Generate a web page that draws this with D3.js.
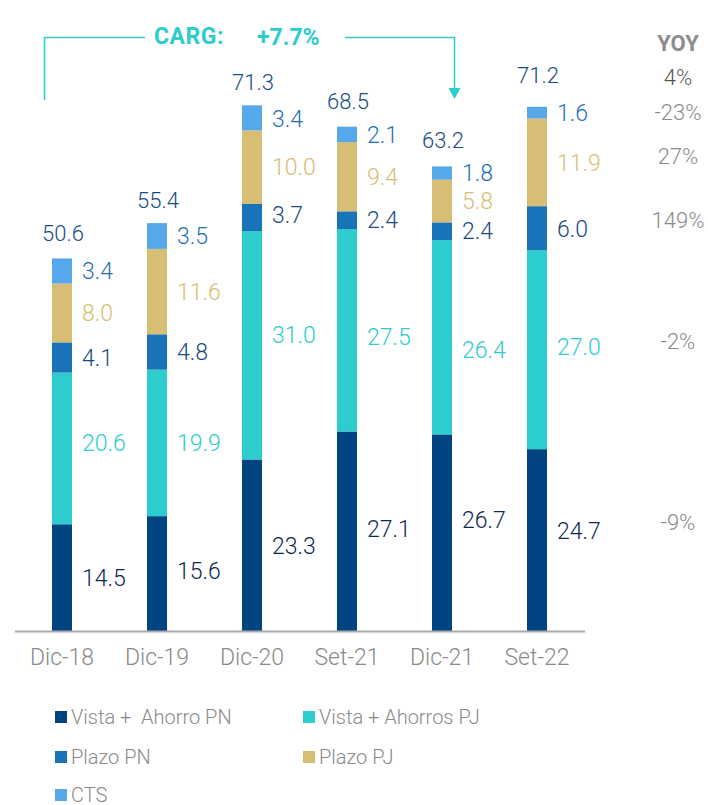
<!DOCTYPE html>
<html>
<head>
<meta charset="utf-8">
<script src="https://cdn.jsdelivr.net/npm/d3@7"></script>
<style>
  html, body { margin: 0; padding: 0; background: #ffffff; }
  svg { display: block; font-family: Roboto, "Open Sans", sans-serif; }
  text { white-space: pre; }
</style>
</head>
<body>
<svg id="chart" width="708" height="805"></svg>
<script>
// ---- data ----
const categories = ["Dic-18", "Dic-19", "Dic-20", "Set-21", "Dic-21", "Set-22"];
const vistaPN = [14.5, 15.6, 23.3, 27.1, 26.7, 24.7];
const vistaPJ = [20.6, 19.9, 31.0, 27.5, 26.4, 27.0];
const plazoPN = [4.1, 4.8, 3.7, 2.4, 2.4, 6.0];
const plazoPJ = [8.0, 11.6, 10.0, 9.4, 5.8, 11.9];
const cts = [3.4, 3.5, 3.4, 2.1, 1.8, 1.6];
const totals = [50.6, 55.4, 71.3, 68.5, 63.2, 71.2];
const seriesKeys = ["vistaPN", "vistaPJ", "plazoPN", "plazoPJ", "cts"];
const seriesNames = ["Vista +  Ahorro PN", "Vista + Ahorros PJ", "Plazo PN", "Plazo PJ", "CTS"];
const yoyHeader = "YOY";
const yoyTotal = "4%";
// YOY by series (vistaPN, vistaPJ, plazoPN, plazoPJ, cts)
const yoySeries = ["-9%", "-2%", "149%", "27%", "-23%"];
const cargLabel = "CARG:";
const cargValue = "+7.7%";

// ---- styles ----
const barColors = { vistaPN: "#004481", vistaPJ: "#2dcccd", plazoPN: "#1973b8", plazoPJ: "#d8be75", cts: "#57a8eb" };
const labelColors = { vistaPN: "#0c2850", vistaPJ: "#2dcccd", plazoPN: "#1a4a82", plazoPJ: "#d8be75", cts: "#1e6fba" };
const totalColor = "#174c86";
const teal = "#2dcccd";
const greyText = "#8a8a8a";

const rows = categories.map((c, i) => ({
  cat: c, vistaPN: vistaPN[i], vistaPJ: vistaPJ[i], plazoPN: plazoPN[i], plazoPJ: plazoPJ[i], cts: cts[i], total: totals[i]
}));

const svg = d3.select("#chart");

const x = d3.scaleBand().domain(categories).range([14.5, 584.5]).paddingInner(0.7895).paddingOuter(0.7895 / 2);
const y = d3.scaleLinear().domain([0, 80]).range([631, 42]);

const stack = d3.stack().keys(seriesKeys)(rows);

// bars
const layers = svg.append("g").selectAll("g").data(stack).join("g")
  .attr("fill", d => barColors[d.key]);
layers.selectAll("rect").data(d => d.map(v => ({ v, key: d.key }))).join("rect")
  .attr("x", d => x(d.v.data.cat))
  .attr("width", x.bandwidth())
  .attr("y", d => y(d.v[1]))
  .attr("height", d => y(d.v[0]) - y(d.v[1]));

// segment labels (small per-label vertical nudges as in the reference layout)
const labelNudge = {
  vistaPN: [0, -3, 0, -3, -13, -9],
  vistaPJ: [-6, 0, -11, 6, 12, -3],
  plazoPN: [0, 0, -3, 0, 0, 0],
  plazoPJ: [0, 0, 0, 0, 0, 0],
  cts: [0, 0, 1, 0, 0, 0]
};
const fmt = d3.format(".1f");
svg.append("g").selectAll("g").data(stack).join("g")
  .attr("fill", d => labelColors[d.key])
  .selectAll("text").data(d => d.map((v, i) => ({ v, key: d.key, i }))).join("text")
  .attr("x", d => x(d.v.data.cat) + x.bandwidth() + 10)
  .attr("y", d => (y(d.v[0]) + y(d.v[1])) / 2 + labelNudge[d.key][d.i])
  .attr("dy", "0.36em")
  .attr("font-size", 23)
  .attr("font-weight", 300)
  .text(d => fmt(d.v.data[d.key]));

// total labels
const totalOffsets = [25, 23, 23, 26, 26, 32];
svg.append("g").selectAll("text").data(rows).join("text")
  .attr("x", d => x(d.cat) + x.bandwidth() / 2 + 1)
  .attr("y", (d, i) => y(d3.sum(seriesKeys, k => d[k])) - totalOffsets[i])
  .attr("dy", "0.36em")
  .attr("text-anchor", "middle")
  .attr("font-size", 22)
  .attr("font-weight", 300)
  .attr("fill", totalColor)
  .text(d => fmt(d.total));

// x axis
const xAxis = svg.append("g").attr("transform", "translate(0,631)")
  .call(d3.axisBottom(x).tickSize(0).tickPadding(18));
xAxis.select(".domain").attr("stroke", "#aaaaaa").attr("stroke-width", 2);
xAxis.selectAll("text")
  .attr("font-size", 23).attr("font-weight", 300).attr("fill", greyText)
  .attr("font-family", "Roboto, sans-serif");

// YOY column
const yoyX = 678;
svg.append("text").attr("x", yoyX).attr("y", 43.5).attr("dy", "0.36em")
  .attr("text-anchor", "middle").attr("font-size", 22).attr("font-weight", 700)
  .attr("fill", "#8c8c8c").text(yoyHeader);
svg.append("text").attr("x", yoyX).attr("y", 77.5).attr("dy", "0.36em")
  .attr("text-anchor", "middle").attr("font-size", 22).attr("font-weight", 300)
  .attr("fill", "#555555").text(yoyTotal);
const lastStack = stack.map(s => s[s.length - 1]);
const yoyShift = [-18, -8.5, -8, -6.5, -1];
svg.append("g").selectAll("text").data(yoySeries).join("text")
  .attr("x", yoyX)
  .attr("y", (d, i) => (y(lastStack[i][0]) + y(lastStack[i][1])) / 2 + yoyShift[i])
  .attr("dy", "0.36em")
  .attr("text-anchor", "middle")
  .attr("font-size", 22)
  .attr("font-weight", 300)
  .attr("fill", greyText)
  .text(d => d);

// CARG annotation
const ann = svg.append("g");
const lineY = 37.5;
const leftX = 44.5, rightX = 454.5;
ann.append("path")
  .attr("d", `M${leftX},100 V${lineY} H145`)
  .attr("fill", "none").attr("stroke", teal).attr("stroke-width", 1.5);
ann.append("path")
  .attr("d", `M345,${lineY} H${rightX} V90`)
  .attr("fill", "none").attr("stroke", teal).attr("stroke-width", 1.5);
ann.append("path")
  .attr("d", `M${rightX - 6},88 L${rightX + 6},88 L${rightX},99 Z`)
  .attr("fill", teal);
ann.append("text").attr("x", 154).attr("y", 36).attr("dy", "0.36em")
  .attr("font-size", 23).attr("font-weight", 700).attr("fill", teal)
  .attr("letter-spacing", 0.5).text(cargLabel);
ann.append("text").attr("x", 257).attr("y", 37).attr("dy", "0.36em")
  .attr("font-size", 23).attr("font-weight", 700).attr("fill", teal)
  .text(cargValue);

// legend
const legendPos = [
  { x: 55, y: 717 }, { x: 303, y: 717 },
  { x: 55, y: 757 }, { x: 303, y: 757 },
  { x: 55, y: 795 }
];
const lg = svg.append("g").selectAll("g").data(seriesKeys).join("g")
  .attr("transform", (d, i) => `translate(${legendPos[i].x},${legendPos[i].y})`);
lg.append("rect").attr("x", 0).attr("y", -6).attr("width", 12).attr("height", 12)
  .attr("fill", d => barColors[d]);
lg.append("text").attr("x", 16).attr("y", 0).attr("dy", "0.36em")
  .attr("font-size", 20).attr("font-weight", 300).attr("fill", greyText)
  .text((d, i) => seriesNames[i]);
</script>
</body>
</html>
